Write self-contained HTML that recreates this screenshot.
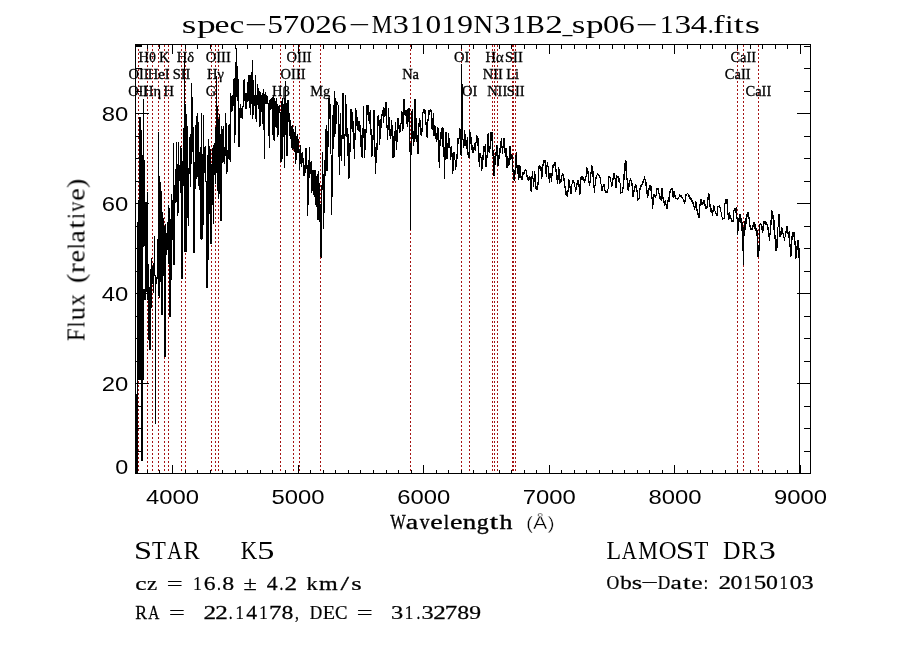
<!DOCTYPE html>
<html><head><meta charset="utf-8"><title>spec</title>
<style>
html,body{margin:0;padding:0;background:#fff;}
svg{display:block;}
text{font-family:"Liberation Serif",serif;fill:#000;}
.ss{font-family:"Liberation Sans",sans-serif;}
</style></head><body>
<svg width="900" height="649" viewBox="0 0 900 649">
<rect x="0" y="0" width="900" height="649" fill="#fff"/>
<path d="M138.5 45V473M147.5 45V473M152.5 45V473M158.5 45V473M164.5 45V473M168.5 45V473M181.5 45V473M185.5 45V473M211.5 45V473M215.5 45V473M218.5 45V473M280.5 45V473M293.5 45V473M299.5 45V473M320.5 45V473M410.5 45V473M461.5 45V473M469.5 45V473M492.5 45V473M494.5 45V473M497.5 45V473M512.5 45V473M513.5 45V473M515.5 45V473M737.5 45V473M743.5 45V473M758.5 45V473" stroke="#a51414" stroke-width="1" stroke-dasharray="2 2" fill="none" shape-rendering="crispEdges"/>
<path d="M300.0 145.0L300.5 164.0L301.5 157.0L302.5 162.0L303.2 158.0L304.0 176.0L305.0 167.0L306.2 148.0L307.0 165.0L307.8 215.5L308.8 165.0L309.5 147.0L310.0 173.0L311.2 170.0L312.0 191.0L313.0 171.0L314.0 195.0L315.0 170.0L316.0 197.0L317.0 179.0L317.8 208.5L318.3 171.0L319.0 219.5L319.8 185.0L320.5 252.5L321.2 258.0L322.0 185.0L322.8 152.0L323.5 228.5L324.5 175.0L325.5 154.0L326.2 125.0L327.0 171.0L328.0 135.0L328.5 98.0L329.5 110.0L330.5 115.0L331.8 214.5L333.0 115.0L333.8 137.0L334.8 91.0L335.5 132.0L336.2 108.0L337.5 102.0L338.5 108.0L339.2 175.0L340.0 124.0L341.2 149.0L342.2 137.0L343.0 93.0L343.8 127.0L344.5 166.0L345.5 102.0L346.5 108.0L347.2 141.0L348.0 145.0L349.0 178.5L350.0 145.0L351.0 109.0L352.0 123.0L353.5 128.0L354.5 158.5L355.5 108.0L356.5 126.0L358.0 121.0L359.5 127.0L361.0 143.0L362.5 157.5L363.5 106.0L364.2 150.0L365.5 145.0L366.5 114.0L368.3 105.0L369.0 116.0L370.5 121.0L371.8 156.5L373.0 137.0L374.5 110.0L375.2 173.5L377.0 145.0L378.5 115.0L380.0 139.0L382.0 114.0L384.5 115.0L385.5 102.0L386.5 114.0L387.5 139.5L388.5 115.0L389.5 125.0L390.0 134.0L391.0 134.5L392.2 125.5L393.2 157.5L394.2 142.0L395.2 133.5L396.2 140.0L396.6 150.0L397.5 118.5L398.5 120.5L399.5 132.5L400.5 129.5L401.8 115.5L402.8 129.0L403.5 115.0L404.0 99.0L404.8 112.0L406.0 110.5L407.0 124.0L408.3 108.5L409.2 112.0L409.8 120.0L410.5 230.0L411.2 112.0L412.2 113.0L413.2 144.0L414.0 135.0L415.0 99.0L415.8 130.0L416.5 126.5L417.2 148.0L418.0 153.5L418.8 125.0L419.5 118.5L420.5 129.0L421.8 136.0L422.8 113.0L424.0 109.5L425.2 110.0L426.0 124.0L427.2 138.0L428.0 119.0L429.5 110.5L431.0 109.5L432.0 129.0L433.3 114.5L433.7 136.0L434.7 129.0L435.5 133.0L436.5 140.0L437.8 127.5L438.5 140.0L439.2 168.0L440.0 140.0L441.0 136.0L442.2 127.5L443.0 140.0L443.5 133.0L444.5 179.0L445.5 132.5L446.2 133.0L447.2 159.0L448.5 137.5L449.5 139.0L450.5 156.0L451.5 146.0L452.8 174.0L454.0 152.0L455.0 160.0L456.0 167.0L457.0 154.0L458.0 141.0L459.5 137.5L460.5 139.0L461.2 156.0L461.8 64.0L462.5 135.0L463.5 144.0L464.5 140.0L465.2 134.5L466.0 146.0L467.0 141.0L468.0 154.0L469.0 158.0L469.8 130.0L470.5 140.0L471.5 144.0L472.5 153.0L474.0 148.0L474.8 145.0L475.0 149.0L475.8 144.0L477.0 135.5L478.0 143.0L479.0 162.0L479.8 156.0L480.8 154.0L481.8 171.0L482.8 157.0L483.8 149.0L485.0 146.0L486.0 167.0L487.0 158.0L488.0 134.5L489.0 151.0L490.0 146.0L490.8 133.0L491.8 132.0L492.5 138.0L493.2 161.0L494.2 175.5L495.0 161.0L496.0 154.0L497.0 145.0L498.2 166.0L499.2 153.0L500.2 147.0L501.5 141.0L502.5 154.0L503.5 138.5L504.5 144.5L505.3 152.0L506.2 149.5L507.0 168.0L508.0 158.0L509.2 163.0L509.8 146.5L510.8 157.0L511.8 155.0L512.8 168.0L514.5 181.0L515.5 166.0L516.2 152.5L517.0 166.0L518.0 170.0L518.8 180.0L520.0 165.5L521.0 177.0L522.0 180.0L523.0 173.5L524.5 172.0L525.8 169.5L527.0 177.0L528.5 180.0L529.8 176.0L530.8 187.0L531.5 192.0L532.2 171.0L533.5 184.0L534.8 173.5L535.8 187.0L536.8 190.0L538.0 182.5L538.8 168.0L539.8 166.0L541.0 170.0L541.8 179.0L542.8 166.0L544.2 160.5L545.5 163.0L546.2 177.0L547.2 162.0L548.5 168.0L549.2 183.0L550.2 174.0L551.5 179.0L552.5 168.0L554.0 165.5L555.2 162.5L556.2 172.0L557.5 184.0L558.8 167.5L559.5 182.0L560.0 183.0L561.0 180.0L562.5 173.5L563.8 179.0L565.0 186.0L566.0 193.0L567.5 196.0L569.0 179.5L570.0 187.0L571.0 194.0L572.0 184.0L573.0 180.0L574.5 183.0L575.5 191.5L576.5 185.0L577.8 180.5L579.0 187.0L579.8 195.0L580.5 184.0L581.2 176.5L583.0 178.0L584.5 182.0L585.8 179.0L586.8 167.5L588.0 173.0L589.5 185.5L590.5 177.0L591.8 165.5L593.0 174.0L594.5 193.0L595.2 182.0L596.5 176.0L597.5 173.5L599.5 176.0L600.5 180.0L601.8 191.0L602.8 187.0L604.0 184.5L605.0 191.0L606.0 193.0L607.2 192.0L608.0 189.0L609.0 176.0L610.5 179.0L611.8 186.5L612.8 180.0L614.0 173.5L615.2 179.0L616.0 188.0L617.0 176.0L618.5 178.0L620.0 183.0L620.8 193.0L622.5 192.0L623.5 183.0L624.5 173.0L625.5 160.5L626.5 170.0L627.2 183.0L628.5 190.5L629.5 181.0L630.5 179.0L631.8 183.0L633.0 197.0L634.5 189.0L635.8 184.5L637.0 192.0L637.8 200.0L639.0 198.0L640.0 189.0L642.0 185.0L644.5 178.0L645.8 183.0L646.8 190.0L647.5 198.0L648.5 191.0L649.5 187.5L650.0 185.5L651.0 190.0L651.8 196.0L652.7 209.0L653.5 194.0L654.5 196.5L656.0 195.5L657.0 188.0L658.2 188.5L659.0 194.0L660.5 199.0L661.2 200.0L662.0 188.0L662.8 198.0L664.0 203.0L665.5 201.0L666.8 209.0L667.8 200.5L669.0 199.0L670.5 189.5L672.0 188.5L673.2 198.0L674.0 192.0L675.5 198.0L677.0 199.0L678.5 198.5L679.7 195.0L681.0 196.5L682.5 197.5L684.5 203.5L686.0 194.5L687.8 193.5L689.0 196.5L690.5 199.0L693.0 202.0L694.7 209.5L695.8 201.0L696.8 209.0L699.0 218.0L700.0 205.0L700.8 199.0L702.0 205.0L704.0 200.0L704.8 204.0L706.0 208.5L707.2 206.0L708.5 193.0L709.5 196.0L710.0 207.0L711.5 210.0L712.5 215.5L713.7 205.0L715.0 211.0L716.8 216.0L718.0 207.0L719.5 206.0L720.8 211.0L722.5 219.0L724.0 218.5L725.0 203.0L726.0 199.0L727.2 202.0L728.5 219.5L729.5 214.0L730.8 218.0L732.0 222.0L733.2 220.0L734.0 210.0L736.2 208.0L736.8 213.0L737.2 222.0L737.2 220.0L737.8 234.5L738.5 221.0L740.0 214.0L741.5 224.0L742.8 235.0L743.2 264.5L743.8 235.0L744.5 224.0L745.8 222.0L748.0 212.5L749.0 218.5L750.0 227.0L752.0 229.5L753.8 222.0L755.0 229.0L757.0 231.5L758.0 257.0L759.0 249.0L759.5 225.0L760.5 224.0L762.0 226.0L762.8 233.0L764.0 221.0L767.0 225.0L768.0 227.0L769.5 241.0L770.5 228.0L771.8 210.5L773.0 216.0L774.5 228.0L776.0 251.0L777.0 243.0L777.8 230.0L778.8 214.5L780.0 237.0L781.8 228.0L783.0 233.5L784.5 240.5L786.8 226.5L788.0 233.5L789.2 233.5L790.8 257.0L791.8 238.0L793.8 232.5L794.8 241.0L795.8 258.5L797.8 240.5L799.2 249.5L799.7 473.5" stroke="#000" stroke-width="1" fill="none" stroke-linejoin="miter" shape-rendering="crispEdges"/>
<path d="M300.5 145V164M301.5 153V167M302.5 152V163M303.5 158V176M304.5 165V176M305.5 148V173M306.5 148V169M307.5 165V216M308.5 162V205M309.5 147V178M310.5 162V174M311.5 161V193M312.5 170V191M313.5 170V195M314.5 170V197M315.5 170V205M316.5 176V207M317.5 174V220M318.5 171V213M319.5 183V222M320.5 204V256M321.5 194V258M322.5 152V190M323.5 174V228M324.5 160V213M325.5 129V176M326.5 125V165M327.5 131V171M328.5 98V147M329.5 98V119M330.5 104V151M331.5 156V214M332.5 124V196M333.5 105V149M334.5 91V137M335.5 98V134M336.5 101V124M337.5 102V105M338.5 105V146M339.5 130V175M340.5 113V156M341.5 135V161M342.5 98V139M343.5 93V133M344.5 136V166M345.5 95V136M346.5 104V137M347.5 128V156M348.5 134V178M349.5 143V178M350.5 109V152M351.5 109V129M352.5 112V132M353.5 121V149M354.5 135V158M355.5 108V140M356.5 110V126M357.5 117V130M358.5 121V131M359.5 121V132M360.5 125V147M361.5 135V157M362.5 128V158M363.5 106V132M364.5 129V158M365.5 130V150M366.5 105V133M367.5 105V115M368.5 105V121M369.5 112V124M370.5 110V133M371.5 129V156M372.5 135V156M373.5 110V140M374.5 110V152M375.5 147V174M376.5 143V163M377.5 116V150M378.5 115V126M379.5 120V145M380.5 119V139M381.5 114V128M382.5 110V116M383.5 107V123M384.5 108V117M385.5 102V116M386.5 102V128M387.5 125V140M388.5 108V130M389.5 117V136M390.5 129V139M391.5 120V136M392.5 126V158M393.5 136V158M394.5 131V157M395.5 122V141M396.5 130V150M397.5 118V142M398.5 118V129M399.5 125V133M400.5 123V132M401.5 111V124M402.5 112V131M403.5 99V129M404.5 99V115M405.5 111V116M406.5 110V124M407.5 109V127M408.5 108V122M409.5 108V140M410.5 151V230M411.5 111V155M412.5 109V137M413.5 131V146M414.5 101V142M415.5 99V139M416.5 118V139M417.5 135V154M418.5 124V154M419.5 118V127M420.5 120V135M421.5 128V136M422.5 112V132M423.5 110V113M424.5 110V114M425.5 110V125M426.5 122V137M427.5 119V138M428.5 110V121M429.5 110V115M430.5 110V112M431.5 110V129M432.5 118V130M433.5 113V136M434.5 125V136M435.5 126V139M436.5 133V142M437.5 128V140M438.5 128V162M439.5 140V168M440.5 132V146M441.5 128V139M442.5 128V147M443.5 128V155M444.5 147V179M445.5 132V160M446.5 132V159M447.5 143V159M448.5 133V148M449.5 138V148M450.5 147V160M451.5 146V156M452.5 153V174M453.5 153V171M454.5 152V160M455.5 160V170M456.5 155V167M457.5 138V159M458.5 138V144M459.5 128V139M460.5 129V155M461.5 64V156M462.5 84V139M463.5 139V148M464.5 130V146M465.5 134V145M466.5 140V149M467.5 137V155M468.5 152V158M469.5 130V158M470.5 132V144M471.5 137V150M472.5 145V153M473.5 147V153M474.5 143V150M475.5 142V151M476.5 136V143M477.5 136V146M478.5 138V162M479.5 153V167M480.5 153V157M481.5 157V171M482.5 155V169M483.5 146V160M484.5 146V152M485.5 144V167M486.5 155V167M487.5 135V158M488.5 133V152M489.5 146V153M490.5 132V149M491.5 132V141M492.5 132V156M493.5 150V176M494.5 156V176M495.5 152V165M496.5 145V156M497.5 145V166M498.5 155V166M499.5 148V159M500.5 141V153M501.5 138V147M502.5 147V154M503.5 138V148M504.5 138V153M505.5 148V157M506.5 148V168M507.5 156V168M508.5 158V166M509.5 146V165M510.5 146V160M511.5 155V159M512.5 155V172M513.5 169V180M514.5 170V181M515.5 155V174M516.5 152V168M517.5 165V174M518.5 165V180M519.5 166V178M520.5 166V178M521.5 176V180M522.5 172V180M523.5 172V175M524.5 170V174M525.5 170V171M526.5 170V177M527.5 175V180M528.5 177V181M529.5 176V180M530.5 177V191M531.5 177V192M532.5 171V179M533.5 178V187M534.5 171V182M535.5 174V189M536.5 186V190M537.5 183V190M538.5 166V185M539.5 166V169M540.5 166V171M541.5 167V179M542.5 164V177M543.5 160V166M544.5 160V163M545.5 160V174M546.5 165V177M547.5 162V167M548.5 166V177M549.5 173V183M550.5 173V178M551.5 173V182M552.5 165V176M553.5 164V168M554.5 162V166M555.5 162V172M556.5 169V180M557.5 175V184M558.5 168V180M559.5 169V184M560.5 179V183M561.5 175V182M562.5 174V176M563.5 174V181M564.5 178V188M565.5 186V195M566.5 191V196M567.5 190V196M568.5 180V192M569.5 180V188M570.5 186V194M571.5 184V194M572.5 180V184M573.5 180V183M574.5 182V187M575.5 187V192M576.5 183V190M577.5 180V185M578.5 180V187M579.5 184V195M580.5 177V194M581.5 176V180M582.5 176V180M583.5 177V181M584.5 179V182M585.5 178V181M586.5 168V177M587.5 168V174M588.5 171V183M589.5 181V186M590.5 172V183M591.5 166V174M592.5 166V177M593.5 171V188M594.5 185V193M595.5 177V186M596.5 175V179M597.5 174V175M598.5 174V176M599.5 175V178M600.5 177V184M601.5 185V191M602.5 186V191M603.5 185V187M604.5 184V191M605.5 190V193M606.5 191V193M607.5 189V193M608.5 177V189M609.5 176V178M610.5 177V182M611.5 182V186M612.5 178V186M613.5 174V180M614.5 174V179M615.5 178V187M616.5 175V188M617.5 176V177M618.5 176V182M619.5 178V183M620.5 183V193M621.5 192V193M622.5 188V193M623.5 174V189M624.5 163V180M625.5 160V171M626.5 161V178M627.5 178V190M628.5 183V190M629.5 180V187M630.5 179V181M631.5 180V186M632.5 183V196M633.5 190V197M634.5 186V192M635.5 184V188M636.5 185V192M637.5 190V200M638.5 198V200M639.5 188V199M640.5 185V190M641.5 184V187M642.5 181V185M643.5 179V183M644.5 178V180M645.5 179V186M646.5 182V194M647.5 190V198M648.5 188V196M649.5 186V190M650.5 186V191M651.5 186V198M652.5 197V209M653.5 194V205M654.5 194V197M655.5 195V198M656.5 188V196M657.5 188V190M658.5 188V194M659.5 193V199M660.5 196V200M661.5 188V200M662.5 188V199M663.5 197V203M664.5 202V206M665.5 201V205M666.5 204V209M667.5 200V209M668.5 197V202M669.5 191V202M670.5 189V193M671.5 188V190M672.5 188V197M673.5 191V198M674.5 191V197M675.5 195V198M676.5 198V199M677.5 199V200M678.5 197V199M679.5 195V197M680.5 195V197M681.5 195V198M682.5 197V199M683.5 199V202M684.5 200V204M685.5 194V202M686.5 194V196M687.5 194V194M688.5 194V197M689.5 195V199M690.5 197V200M691.5 198V202M692.5 200V204M693.5 202V206M694.5 206V210M695.5 201V208M696.5 202V211M697.5 209V215M698.5 213V218M699.5 204V218M700.5 199V206M701.5 199V205M702.5 203V205M703.5 200V204M704.5 200V206M705.5 204V208M706.5 206V208M707.5 197V208M708.5 193V200M709.5 194V207M710.5 204V212M711.5 208V213M712.5 210V216M713.5 205V212M714.5 206V211M715.5 211V214M716.5 213V216M717.5 206V216M718.5 206V207M719.5 206V208M720.5 207V212M721.5 212V217M722.5 217V219M723.5 218V219M724.5 203V219M725.5 199V204M726.5 199V204M727.5 199V215M728.5 213V220M729.5 212V219M730.5 215V219M731.5 218V222M732.5 220V222M733.5 210V222M734.5 208V211M735.5 208V213M736.5 208V219M737.5 217V234M738.5 218V231M739.5 214V222M740.5 214V223M741.5 218V231M742.5 222V250M743.5 227V264M744.5 221V236M745.5 218V230M746.5 214V224M747.5 212V217M748.5 212V219M749.5 217V227M750.5 225V230M751.5 228V230M752.5 225V230M753.5 222V227M754.5 222V229M755.5 224V231M756.5 228V236M757.5 230V256M758.5 245V257M759.5 224V251M760.5 224V225M761.5 224V230M762.5 226V233M763.5 222V231M764.5 221V224M765.5 221V225M766.5 222V225M767.5 224V230M768.5 227V237M769.5 233V241M770.5 220V235M771.5 210V225M772.5 211V219M773.5 215V230M774.5 220V239M775.5 235V250M776.5 239V251M777.5 227V248M778.5 214V227M779.5 214V237M780.5 231V237M781.5 227V235M782.5 228V233M783.5 233V238M784.5 237V240M785.5 231V237M786.5 226V233M787.5 226V234M788.5 232V238M789.5 231V247M790.5 244V257M791.5 236V256M792.5 232V240M793.5 232V237M794.5 232V245M795.5 241V258M796.5 246V258M797.5 240V250M798.5 240V258M799.5 249V473" stroke="#000" stroke-width="1" fill="none" shape-rendering="crispEdges"/>
<path d="M136.5 394V473M137.5 222V473M138.5 200V380M139.5 117V380M140.5 117V380M141.5 130V461M142.5 155V461M143.5 99V247M143.5 289V380M144.5 160V246M144.5 289V300M145.5 202V300M146.5 202V292M147.5 192V300M148.5 264V340M149.5 287V350M150.5 269V350M151.5 258V308M152.5 266V284M153.5 263V293M154.5 236V276M155.5 275V424M156.5 277V284M157.5 239V279M158.5 132V296M159.5 176V298M160.5 182V282M161.5 191V315M162.5 212V315M163.5 218V276M164.5 226V357M165.5 224V357M166.5 233V255M167.5 222V250M168.5 205V264M169.5 208V317M170.5 219V317M171.5 194V280M172.5 200V240M173.5 143V265M174.5 185V265M175.5 169V203M176.5 142V202M177.5 164V216M178.5 142V213M179.5 165V181M180.5 146V193M181.5 148V279M182.5 161V279M183.5 128V186M184.5 53V252M185.5 104V252M186.5 114V252M187.5 126V218M188.5 168V226M189.5 137V174M190.5 134V187M191.5 83V164M192.5 97V152M193.5 127V253M194.5 162V253M195.5 125V189M196.5 116V179M197.5 113V177M198.5 122V186M199.5 152V190M200.5 147V239M201.5 113V240M202.5 154V239M203.5 115V225M204.5 147V173M205.5 146V182M206.5 181V288M207.5 155V288M208.5 139V260M209.5 146V214M210.5 149V244M211.5 164V244M212.5 148V205M213.5 145V224M214.5 143V175M215.5 127V184M216.5 76V173M217.5 106V191M218.5 119V199M219.5 114V194M220.5 134V221M221.5 126V221M222.5 129V163M223.5 126V162M224.5 147V164M225.5 113V156M226.5 123V174M227.5 150V172M228.5 125V159M229.5 124V160M230.5 93V162M231.5 96V112M232.5 95V111M233.5 79V106M234.5 78V143M235.5 62V135M236.5 48V97M237.5 66V101M238.5 79V147M239.5 108V147M240.5 104V118M241.5 108V118M242.5 106V119M243.5 80V107M244.5 79V101M245.5 93V109M246.5 93V109M247.5 82V102M248.5 75V101M249.5 75V108M250.5 75V115M251.5 72V104M252.5 60V119M253.5 80V115M254.5 95V106M255.5 75V119M256.5 95V122M257.5 84V105M258.5 88V109M259.5 91V127M260.5 92V126M261.5 95V112M262.5 93V124M263.5 89V130M264.5 94V159M265.5 92V104M266.5 95V104M267.5 96V104M268.5 103V136M269.5 100V148M270.5 99V110M271.5 98V109M272.5 97V135M273.5 95V140M274.5 98V141M275.5 101V127M276.5 98V128M277.5 104V137M278.5 106V135M279.5 105V113M280.5 112V162M281.5 101V162M282.5 98V159M283.5 104V137M284.5 98V168M285.5 81V135M286.5 103V156M287.5 100V156M288.5 100V122M289.5 113V136M290.5 120V139M291.5 126V148M292.5 125V150M293.5 129V149M294.5 132V152M295.5 126V164M296.5 136V160M297.5 134V153M298.5 139V153M299.5 149V170" stroke="#000" stroke-width="1" fill="none" shape-rendering="crispEdges"/>
<path d="M136 45.5H142" stroke="#000" stroke-width="1" shape-rendering="crispEdges"/>
<path d="M135.5 44.5H810.5V473.5H135.5ZM147.5 473.5v-4M147.5 44.5v4M159.5 473.5v-4M159.5 44.5v4M172.5 473.5v-9M172.5 44.5v9M185.5 473.5v-4M185.5 44.5v4M197.5 473.5v-4M197.5 44.5v4M210.5 473.5v-4M210.5 44.5v4M222.5 473.5v-4M222.5 44.5v4M235.5 473.5v-4M235.5 44.5v4M247.5 473.5v-4M247.5 44.5v4M260.5 473.5v-4M260.5 44.5v4M272.5 473.5v-4M272.5 44.5v4M285.5 473.5v-4M285.5 44.5v4M298.5 473.5v-9M298.5 44.5v9M310.5 473.5v-4M310.5 44.5v4M323.5 473.5v-4M323.5 44.5v4M335.5 473.5v-4M335.5 44.5v4M348.5 473.5v-4M348.5 44.5v4M360.5 473.5v-4M360.5 44.5v4M373.5 473.5v-4M373.5 44.5v4M386.5 473.5v-4M386.5 44.5v4M398.5 473.5v-4M398.5 44.5v4M411.5 473.5v-4M411.5 44.5v4M423.5 473.5v-9M423.5 44.5v9M436.5 473.5v-4M436.5 44.5v4M448.5 473.5v-4M448.5 44.5v4M461.5 473.5v-4M461.5 44.5v4M473.5 473.5v-4M473.5 44.5v4M486.5 473.5v-4M486.5 44.5v4M499.5 473.5v-4M499.5 44.5v4M511.5 473.5v-4M511.5 44.5v4M524.5 473.5v-4M524.5 44.5v4M536.5 473.5v-4M536.5 44.5v4M549.5 473.5v-9M549.5 44.5v9M561.5 473.5v-4M561.5 44.5v4M574.5 473.5v-4M574.5 44.5v4M586.5 473.5v-4M586.5 44.5v4M599.5 473.5v-4M599.5 44.5v4M612.5 473.5v-4M612.5 44.5v4M624.5 473.5v-4M624.5 44.5v4M637.5 473.5v-4M637.5 44.5v4M649.5 473.5v-4M649.5 44.5v4M662.5 473.5v-4M662.5 44.5v4M674.5 473.5v-9M674.5 44.5v9M687.5 473.5v-4M687.5 44.5v4M700.5 473.5v-4M700.5 44.5v4M712.5 473.5v-4M712.5 44.5v4M725.5 473.5v-4M725.5 44.5v4M737.5 473.5v-4M737.5 44.5v4M750.5 473.5v-4M750.5 44.5v4M762.5 473.5v-4M762.5 44.5v4M775.5 473.5v-4M775.5 44.5v4M787.5 473.5v-4M787.5 44.5v4M800.5 473.5v-9M800.5 44.5v9M135.5 451.5h6.5M810.5 451.5h-6.5M135.5 428.5h6.5M810.5 428.5h-6.5M135.5 406.5h6.5M810.5 406.5h-6.5M135.5 383.5h13.5M810.5 383.5h-13.5M135.5 361.5h6.5M810.5 361.5h-6.5M135.5 338.5h6.5M810.5 338.5h-6.5M135.5 316.5h6.5M810.5 316.5h-6.5M135.5 293.5h13.5M810.5 293.5h-13.5M135.5 271.5h6.5M810.5 271.5h-6.5M135.5 248.5h6.5M810.5 248.5h-6.5M135.5 226.5h6.5M810.5 226.5h-6.5M135.5 203.5h13.5M810.5 203.5h-13.5M135.5 181.5h6.5M810.5 181.5h-6.5M135.5 158.5h6.5M810.5 158.5h-6.5M135.5 136.5h6.5M810.5 136.5h-6.5M135.5 113.5h13.5M810.5 113.5h-13.5M135.5 91.5h6.5M810.5 91.5h-6.5M135.5 68.5h6.5M810.5 68.5h-6.5M135.5 46.5h6.5M810.5 46.5h-6.5" stroke="#000" stroke-width="1" fill="none" shape-rendering="crispEdges"/>
<g id="alltext" opacity="0.999">
<text x="138.2" y="95.5" font-size="14.5" text-anchor="middle" stroke="#000" stroke-width="0.3">OII</text>
<text x="138.6" y="78.5" font-size="14.5" text-anchor="middle" stroke="#000" stroke-width="0.3">OII</text>
<text x="147.3" y="61.5" font-size="14.5" text-anchor="middle" stroke="#000" stroke-width="0.3">Hθ</text>
<text x="152.0" y="95.5" font-size="14.5" text-anchor="middle" stroke="#000" stroke-width="0.3">Hη</text>
<text x="158.6" y="78.5" font-size="14.5" text-anchor="middle" stroke="#000" stroke-width="0.3">HeI</text>
<text x="164.3" y="61.5" font-size="14.5" text-anchor="middle" stroke="#000" stroke-width="0.3">K</text>
<text x="168.7" y="95.5" font-size="14.5" text-anchor="middle" stroke="#000" stroke-width="0.3">H</text>
<text x="181.6" y="78.5" font-size="14.5" text-anchor="middle" stroke="#000" stroke-width="0.3">SII</text>
<text x="185.4" y="61.5" font-size="14.5" text-anchor="middle" stroke="#000" stroke-width="0.3">Hδ</text>
<text x="210.9" y="95.5" font-size="14.5" text-anchor="middle" stroke="#000" stroke-width="0.3">G</text>
<text x="215.4" y="78.5" font-size="14.5" text-anchor="middle" stroke="#000" stroke-width="0.3">Hγ</text>
<text x="218.3" y="61.5" font-size="14.5" text-anchor="middle" stroke="#000" stroke-width="0.3">OIII</text>
<text x="280.9" y="95.5" font-size="14.5" text-anchor="middle" stroke="#000" stroke-width="0.3">Hβ</text>
<text x="293.1" y="78.5" font-size="14.5" text-anchor="middle" stroke="#000" stroke-width="0.3">OIII</text>
<text x="299.1" y="61.5" font-size="14.5" text-anchor="middle" stroke="#000" stroke-width="0.3">OIII</text>
<text x="320.3" y="95.5" font-size="14.5" text-anchor="middle" stroke="#000" stroke-width="0.3">Mg</text>
<text x="410.6" y="78.5" font-size="14.5" text-anchor="middle" stroke="#000" stroke-width="0.3">Na</text>
<text x="461.6" y="61.5" font-size="14.5" text-anchor="middle" stroke="#000" stroke-width="0.3">OI</text>
<text x="469.6" y="95.5" font-size="14.5" text-anchor="middle" stroke="#000" stroke-width="0.3">OI</text>
<text x="492.8" y="78.5" font-size="14.5" text-anchor="middle" stroke="#000" stroke-width="0.3">NII</text>
<text x="494.6" y="61.5" font-size="14.5" text-anchor="middle" stroke="#000" stroke-width="0.3">Hα</text>
<text x="497.2" y="95.5" font-size="14.5" text-anchor="middle" stroke="#000" stroke-width="0.3">NII</text>
<text x="512.6" y="78.5" font-size="14.5" text-anchor="middle" stroke="#000" stroke-width="0.3">Li</text>
<text x="513.9" y="61.5" font-size="14.5" text-anchor="middle" stroke="#000" stroke-width="0.3">SII</text>
<text x="515.7" y="95.5" font-size="14.5" text-anchor="middle" stroke="#000" stroke-width="0.3">SII</text>
<text x="737.7" y="78.5" font-size="14.5" text-anchor="middle" stroke="#000" stroke-width="0.3">CaII</text>
<text x="743.3" y="61.5" font-size="14.5" text-anchor="middle" stroke="#000" stroke-width="0.3">CaII</text>
<text x="758.4" y="95.5" font-size="14.5" text-anchor="middle" stroke="#000" stroke-width="0.3">CaII</text>
<text class="ss" x="172.5" y="503.8" font-size="21" text-anchor="middle" textLength="53" lengthAdjust="spacingAndGlyphs">4000</text>
<text class="ss" x="298.1" y="503.8" font-size="21" text-anchor="middle" textLength="53" lengthAdjust="spacingAndGlyphs">5000</text>
<text class="ss" x="423.7" y="503.8" font-size="21" text-anchor="middle" textLength="53" lengthAdjust="spacingAndGlyphs">6000</text>
<text class="ss" x="549.3" y="503.8" font-size="21" text-anchor="middle" textLength="53" lengthAdjust="spacingAndGlyphs">7000</text>
<text class="ss" x="674.9" y="503.8" font-size="21" text-anchor="middle" textLength="53" lengthAdjust="spacingAndGlyphs">8000</text>
<text class="ss" x="800.5" y="503.8" font-size="21" text-anchor="middle" textLength="53" lengthAdjust="spacingAndGlyphs">9000</text>
<text class="ss" x="128.3" y="473.5" font-size="21" text-anchor="end" textLength="13" lengthAdjust="spacingAndGlyphs">0</text>
<text class="ss" x="128.3" y="391.0" font-size="21" text-anchor="end" textLength="26.5" lengthAdjust="spacingAndGlyphs">20</text>
<text class="ss" x="128.3" y="301.0" font-size="21" text-anchor="end" textLength="26.5" lengthAdjust="spacingAndGlyphs">40</text>
<text class="ss" x="128.3" y="211.0" font-size="21" text-anchor="end" textLength="26.5" lengthAdjust="spacingAndGlyphs">60</text>
<text class="ss" x="128.3" y="121.0" font-size="21" text-anchor="end" textLength="26.5" lengthAdjust="spacingAndGlyphs">80</text>
<g id="title">
<text transform="translate(181.76 32.5) scale(1.518 1)" font-size="24.7">s</text>
<text transform="translate(196.90 32.5) scale(1.520 1)" font-size="24.7">p</text>
<text transform="translate(214.48 32.5) scale(1.367 1)" font-size="24.7">e</text>
<text transform="translate(229.53 32.5) scale(1.350 1)" font-size="24.7">c</text>
<text transform="translate(245.09 32.5) scale(1.600 1)" font-size="24.7">−</text>
<text transform="translate(267.40 32.5) scale(1.256 1)" font-size="24.7">5</text>
<text transform="translate(282.84 32.5) scale(1.329 1)" font-size="24.7">7</text>
<text transform="translate(299.60 32.5) scale(1.280 1)" font-size="24.7">0</text>
<text transform="translate(315.24 32.5) scale(1.343 1)" font-size="24.7">2</text>
<text transform="translate(331.16 32.5) scale(1.260 1)" font-size="24.7">6</text>
<text transform="translate(348.93 32.5) scale(1.523 1)" font-size="24.7">−</text>
<text transform="translate(371.83 32.5) scale(0.935 1)" font-size="24.7">M</text>
<text transform="translate(392.66 32.5) scale(1.304 1)" font-size="24.7">3</text>
<text transform="translate(410.00 32.5) scale(1.150 1)" font-size="24.7">1</text>
<text transform="translate(425.50 32.5) scale(1.270 1)" font-size="24.7">0</text>
<text transform="translate(441.70 32.5) scale(1.150 1)" font-size="24.7">1</text>
<text transform="translate(457.29 32.5) scale(1.271 1)" font-size="24.7">9</text>
<text transform="translate(473.41 32.5) scale(1.105 1)" font-size="24.7">N</text>
<text transform="translate(494.25 32.5) scale(1.313 1)" font-size="24.7">3</text>
<text transform="translate(511.70 32.5) scale(1.150 1)" font-size="24.7">1</text>
<text transform="translate(525.89 32.5) scale(1.140 1)" font-size="24.7">B</text>
<text transform="translate(545.15 32.5) scale(1.424 1)" font-size="24.7">2</text>
<text transform="translate(562.56 32.5) scale(0.800 1)" font-size="24.7">_</text>
<text transform="translate(571.87 32.5) scale(1.414 1)" font-size="24.7">s</text>
<text transform="translate(585.93 32.5) scale(1.429 1)" font-size="24.7">p</text>
<text transform="translate(603.07 32.5) scale(1.309 1)" font-size="24.7">0</text>
<text transform="translate(618.72 32.5) scale(1.298 1)" font-size="24.7">6</text>
<text transform="translate(636.07 32.5) scale(1.566 1)" font-size="24.7">−</text>
<text transform="translate(659.93 32.5) scale(1.092 1)" font-size="24.7">1</text>
<text transform="translate(674.40 32.5) scale(1.353 1)" font-size="24.7">3</text>
<text transform="translate(690.86 32.5) scale(1.324 1)" font-size="24.7">4</text>
<text transform="translate(707.64 32.5) scale(0.959 1)" font-size="24.7">.</text>
<text transform="translate(712.92 32.5) scale(1.420 1)" font-size="24.7">f</text>
<text transform="translate(725.06 32.5) scale(1.243 1)" font-size="24.7">i</text>
<text transform="translate(733.75 32.5) scale(1.467 1)" font-size="24.7">t</text>
<text transform="translate(744.76 32.5) scale(1.600 1)" font-size="24.7">s</text>
</g>
<g id="xlabel">
<text transform="translate(390.20 529.3) scale(0.800 1)" font-size="20.5" stroke="#000" stroke-width="0.35">W</text>
<text transform="translate(405.74 529.3) scale(1.367 1)" font-size="20.5" stroke="#000" stroke-width="0.35">a</text>
<text transform="translate(419.75 529.3) scale(0.953 1)" font-size="20.5" stroke="#000" stroke-width="0.35">v</text>
<text transform="translate(430.37 529.3) scale(1.373 1)" font-size="20.5" stroke="#000" stroke-width="0.35">e</text>
<text transform="translate(443.78 529.3) scale(0.935 1)" font-size="20.5" stroke="#000" stroke-width="0.35">l</text>
<text transform="translate(449.90 529.3) scale(1.373 1)" font-size="20.5" stroke="#000" stroke-width="0.35">e</text>
<text transform="translate(462.75 529.3) scale(1.306 1)" font-size="20.5" stroke="#000" stroke-width="0.35">n</text>
<text transform="translate(476.67 529.3) scale(1.160 1)" font-size="20.5" stroke="#000" stroke-width="0.35">g</text>
<text transform="translate(489.77 529.3) scale(1.453 1)" font-size="20.5" stroke="#000" stroke-width="0.35">t</text>
<text transform="translate(499.58 529.3) scale(1.265 1)" font-size="20.5" stroke="#000" stroke-width="0.35">h</text>
</g>
<text class="ss" x="526" y="529.3" font-size="19" stroke="#fff" stroke-width="0.4" textLength="28.5" lengthAdjust="spacingAndGlyphs">(Å)</text>
<g id="ylabel" transform="translate(84.5 340.3) rotate(-90)">
<text transform="translate(-0.66 0) scale(0.928 1)" font-size="24.5">F</text>
<text transform="translate(13.04 0) scale(0.800 1)" font-size="24.5">l</text>
<text transform="translate(20.02 0) scale(1.085 1)" font-size="24.5">u</text>
<text transform="translate(34.61 0) scale(0.952 1)" font-size="24.5">x</text>
<text transform="translate(57.23 0) scale(1.148 1)" font-size="24.5">(</text>
<text transform="translate(67.06 0) scale(1.234 1)" font-size="24.5">r</text>
<text transform="translate(77.73 0) scale(1.159 1)" font-size="24.5">e</text>
<text transform="translate(91.22 0) scale(0.800 1)" font-size="24.5">l</text>
<text transform="translate(97.55 0) scale(1.154 1)" font-size="24.5">a</text>
<text transform="translate(111.39 0) scale(1.227 1)" font-size="24.5">t</text>
<text transform="translate(121.42 0) scale(0.800 1)" font-size="24.5">i</text>
<text transform="translate(128.77 0) scale(0.804 1)" font-size="24.5">v</text>
<text transform="translate(139.48 0) scale(1.159 1)" font-size="24.5">e</text>
<text transform="translate(152.17 0) scale(1.148 1)" font-size="24.5">)</text>
</g>
<g id="t1">
<text transform="translate(134.03 559.4) scale(1.247 1)" font-size="26">S</text>
<text transform="translate(152.09 559.4) scale(0.870 1)" font-size="26">T</text>
<text transform="translate(167.37 559.4) scale(0.800 1)" font-size="26">A</text>
<text transform="translate(183.58 559.4) scale(0.935 1)" font-size="26">R</text>
<text transform="translate(240.67 559.4) scale(0.872 1)" font-size="26">K</text>
<text transform="translate(257.25 559.4) scale(1.323 1)" font-size="26">5</text>
</g>
<g id="t2">
<text transform="translate(135.23 589.5) scale(1.316 1)" font-size="19.3" stroke="#000" stroke-width="0.25">c</text>
<text transform="translate(146.89 589.5) scale(1.189 1)" font-size="19.3" stroke="#000" stroke-width="0.25">z</text>
<text transform="translate(166.64 589.5) scale(1.458 1)" font-size="19.3" stroke="#000" stroke-width="0.25">=</text>
<text transform="translate(193.34 589.5) scale(0.876 1)" font-size="19.3" stroke="#000" stroke-width="0.25">1</text>
<text transform="translate(203.63 589.5) scale(1.227 1)" font-size="19.3" stroke="#000" stroke-width="0.25">6</text>
<text transform="translate(217.01 589.5) scale(0.800 1)" font-size="19.3" stroke="#000" stroke-width="0.25">.</text>
<text transform="translate(222.19 589.5) scale(1.237 1)" font-size="19.3" stroke="#000" stroke-width="0.25">8</text>
<text transform="translate(243.52 589.5) scale(1.259 1)" font-size="19.3" stroke="#000" stroke-width="0.25">±</text>
<text transform="translate(266.72 589.5) scale(1.128 1)" font-size="19.3" stroke="#000" stroke-width="0.25">4</text>
<text transform="translate(279.51 589.5) scale(0.800 1)" font-size="19.3" stroke="#000" stroke-width="0.25">.</text>
<text transform="translate(284.49 589.5) scale(1.308 1)" font-size="19.3" stroke="#000" stroke-width="0.25">2</text>
<text transform="translate(306.61 589.5) scale(1.154 1)" font-size="19.3" stroke="#000" stroke-width="0.25">k</text>
<text transform="translate(319.02 589.5) scale(1.248 1)" font-size="19.3" stroke="#000" stroke-width="0.25">m</text>
<text transform="translate(340.54 589.5) scale(1.600 1)" font-size="19.3" stroke="#000" stroke-width="0.25">/</text>
<text transform="translate(351.17 589.5) scale(1.384 1)" font-size="19.3" stroke="#000" stroke-width="0.25">s</text>
</g>
<g id="t3">
<text transform="translate(135.19 619.3) scale(0.918 1)" font-size="19.3" stroke="#000" stroke-width="0.25">R</text>
<text transform="translate(148.22 619.3) scale(0.800 1)" font-size="19.3" stroke="#000" stroke-width="0.25">A</text>
<text transform="translate(169.05 619.3) scale(1.455 1)" font-size="19.3" stroke="#000" stroke-width="0.25">=</text>
<text transform="translate(203.49 619.3) scale(1.305 1)" font-size="19.3" stroke="#000" stroke-width="0.25">2</text>
<text transform="translate(215.37 619.3) scale(1.305 1)" font-size="19.3" stroke="#000" stroke-width="0.25">2</text>
<text transform="translate(228.80 619.3) scale(0.800 1)" font-size="19.3" stroke="#000" stroke-width="0.25">.</text>
<text transform="translate(235.49 619.3) scale(0.874 1)" font-size="19.3" stroke="#000" stroke-width="0.25">1</text>
<text transform="translate(246.35 619.3) scale(1.126 1)" font-size="19.3" stroke="#000" stroke-width="0.25">4</text>
<text transform="translate(259.25 619.3) scale(0.874 1)" font-size="19.3" stroke="#000" stroke-width="0.25">1</text>
<text transform="translate(268.89 619.3) scale(1.291 1)" font-size="19.3" stroke="#000" stroke-width="0.25">7</text>
<text transform="translate(281.50 619.3) scale(1.234 1)" font-size="19.3" stroke="#000" stroke-width="0.25">8</text>
<text transform="translate(294.93 619.3) scale(0.800 1)" font-size="19.3" stroke="#000" stroke-width="0.25">,</text>
<text transform="translate(309.83 619.3) scale(0.895 1)" font-size="19.3" stroke="#000" stroke-width="0.25">D</text>
<text transform="translate(322.81 619.3) scale(1.041 1)" font-size="19.3" stroke="#000" stroke-width="0.25">E</text>
<text transform="translate(335.10 619.3) scale(0.970 1)" font-size="19.3" stroke="#000" stroke-width="0.25">C</text>
<text transform="translate(356.74 619.3) scale(1.455 1)" font-size="19.3" stroke="#000" stroke-width="0.25">=</text>
<text transform="translate(391.12 619.3) scale(1.267 1)" font-size="19.3" stroke="#000" stroke-width="0.25">3</text>
<text transform="translate(404.77 619.3) scale(0.874 1)" font-size="19.3" stroke="#000" stroke-width="0.25">1</text>
<text transform="translate(416.50 619.3) scale(0.800 1)" font-size="19.3" stroke="#000" stroke-width="0.25">.</text>
<text transform="translate(421.42 619.3) scale(1.267 1)" font-size="19.3" stroke="#000" stroke-width="0.25">3</text>
<text transform="translate(433.36 619.3) scale(1.305 1)" font-size="19.3" stroke="#000" stroke-width="0.25">2</text>
<text transform="translate(444.70 619.3) scale(1.291 1)" font-size="19.3" stroke="#000" stroke-width="0.25">7</text>
<text transform="translate(457.32 619.3) scale(1.234 1)" font-size="19.3" stroke="#000" stroke-width="0.25">8</text>
<text transform="translate(469.34 619.3) scale(1.226 1)" font-size="19.3" stroke="#000" stroke-width="0.25">9</text>
</g>
<g id="t4">
<text transform="translate(606.61 559.4) scale(0.919 1)" font-size="26">L</text>
<text transform="translate(621.81 559.4) scale(0.800 1)" font-size="26">A</text>
<text transform="translate(638.28 559.4) scale(0.847 1)" font-size="26">M</text>
<text transform="translate(658.69 559.4) scale(0.950 1)" font-size="26">O</text>
<text transform="translate(675.79 559.4) scale(1.273 1)" font-size="26">S</text>
<text transform="translate(694.23 559.4) scale(0.888 1)" font-size="26">T</text>
<text transform="translate(723.06 559.4) scale(0.930 1)" font-size="26">D</text>
<text transform="translate(741.34 559.4) scale(0.955 1)" font-size="26">R</text>
<text transform="translate(758.72 559.4) scale(1.317 1)" font-size="26">3</text>
</g>
<g id="t5">
<text transform="translate(606.58 589.3) scale(0.913 1)" font-size="19.3" stroke="#000" stroke-width="0.25">O</text>
<text transform="translate(620.36 589.3) scale(1.199 1)" font-size="19.3" stroke="#000" stroke-width="0.25">b</text>
<text transform="translate(631.73 589.3) scale(1.380 1)" font-size="19.3" stroke="#000" stroke-width="0.25">s</text>
<text transform="translate(641.10 589.3) scale(1.586 1)" font-size="19.3" stroke="#000" stroke-width="0.25">−</text>
<text transform="translate(657.86 589.3) scale(0.895 1)" font-size="19.3" stroke="#000" stroke-width="0.25">D</text>
<text transform="translate(670.52 589.3) scale(1.324 1)" font-size="19.3" stroke="#000" stroke-width="0.25">a</text>
<text transform="translate(683.02 589.3) scale(1.408 1)" font-size="19.3" stroke="#000" stroke-width="0.25">t</text>
<text transform="translate(691.19 589.3) scale(1.330 1)" font-size="19.3" stroke="#000" stroke-width="0.25">e</text>
<text transform="translate(703.71 589.3) scale(0.800 1)" font-size="19.3" stroke="#000" stroke-width="0.25">:</text>
<text transform="translate(718.39 589.3) scale(1.304 1)" font-size="19.3" stroke="#000" stroke-width="0.25">2</text>
<text transform="translate(730.46 589.3) scale(1.234 1)" font-size="19.3" stroke="#000" stroke-width="0.25">0</text>
<text transform="translate(743.84 589.3) scale(0.874 1)" font-size="19.3" stroke="#000" stroke-width="0.25">1</text>
<text transform="translate(753.66 589.3) scale(1.298 1)" font-size="19.3" stroke="#000" stroke-width="0.25">5</text>
<text transform="translate(766.08 589.3) scale(1.234 1)" font-size="19.3" stroke="#000" stroke-width="0.25">0</text>
<text transform="translate(779.46 589.3) scale(0.874 1)" font-size="19.3" stroke="#000" stroke-width="0.25">1</text>
<text transform="translate(789.83 589.3) scale(1.234 1)" font-size="19.3" stroke="#000" stroke-width="0.25">0</text>
<text transform="translate(801.44 589.3) scale(1.266 1)" font-size="19.3" stroke="#000" stroke-width="0.25">3</text>
</g>
</g>
</svg>
</body></html>
